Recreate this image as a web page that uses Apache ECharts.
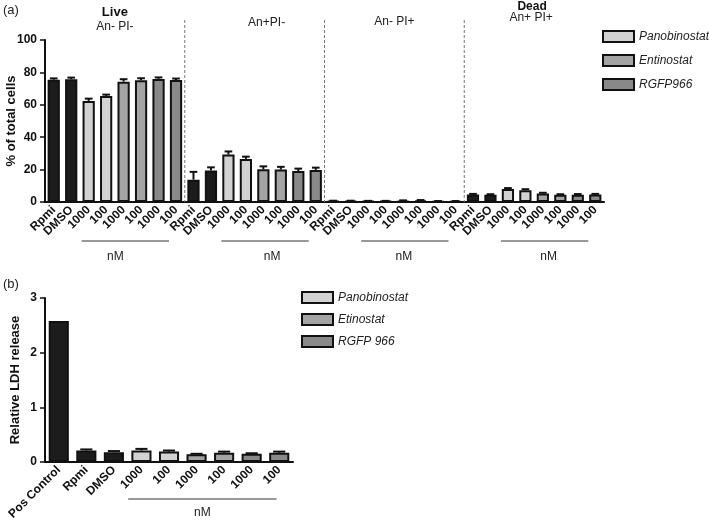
<!DOCTYPE html>
<html>
<head>
<meta charset="utf-8">
<script src="https://cdn.jsdelivr.net/npm/echarts@6/dist/echarts.min.js"></script>
<style>
  html, body { margin: 0; padding: 0; background: #fff; }
  #main { width: 709px; height: 528px; }
</style>
</head>
<body>
<div id="main"></div>
<script>
// (a) flow cytometry panels
var panelNames = ['Live', 'An+PI-', 'An- PI+', 'Dead'];
var panelLabels = ['Rpmi', 'DMSO', '1000', '100', '1000', '100', '1000', '100'];
var panelTreatment = ['Control', 'Control', 'Panobinostat', 'Panobinostat', 'Entinostat', 'Entinostat', 'RGFP966', 'RGFP966'];
var liveMean = [75.5, 75.8, 62.4, 65.4, 74.3, 75.2, 76.0, 75.3];
var liveErr = [0.8, 1.0, 1.4, 0.9, 1.5, 1.2, 0.9, 0.9];
var anPosPiNegMean = [13.8, 19.5, 29.3, 26.6, 20.2, 20.0, 19.1, 19.8];
var anPosPiNegErr = [4.8, 1.9, 1.9, 1.4, 1.8, 1.7, 1.5, 1.4];
var anNegPiPosMean = [0.6, 0.6, 0.5, 0.5, 0.7, 0.9, 0.4, 0.4];
var anNegPiPosErr = [0.2, 0.2, 0.2, 0.2, 0.3, 0.3, 0.2, 0.2];
var deadMean = [4.6, 4.4, 8.0, 7.3, 5.3, 4.4, 4.5, 4.6];
var deadErr = [0.4, 0.4, 0.6, 0.6, 0.4, 0.4, 0.4, 0.4];
var topTicks = [0, 20, 40, 60, 80, 100];

// (b) LDH release
var ldhLabels = ['Pos Control', 'Rpmi', 'DMSO', '1000', '100', '1000', '100', '1000', '100'];
var ldhTreatment = ['Control', 'Control', 'Control', 'Panobinostat', 'Panobinostat', 'Etinostat', 'Etinostat', 'RGFP 966', 'RGFP 966'];
var ldhMean = [2.58, 0.21, 0.18, 0.21, 0.19, 0.14, 0.17, 0.15, 0.17];
var ldhErr = [0, 0.02, 0.02, 0.03, 0.02, 0.01, 0.02, 0.01, 0.02];

var colors = {
  'Control': '#1c1c1c',
  'Panobinostat': '#d2d2d2',
  'Entinostat': '#a4a4a4',
  'Etinostat': '#a4a4a4',
  'RGFP966': '#898989',
  'RGFP 966': '#898989'
};

var FONT = "'Liberation Sans', Arial, sans-serif";

// flatten the 4 panels
var topLabels = [], topTreat = [], topMean = [], topErr = [];
var means = [liveMean, anPosPiNegMean, anNegPiPosMean, deadMean];
var errs = [liveErr, anPosPiNegErr, anNegPiPosErr, deadErr];
for (var p = 0; p < panelNames.length; p++) {
  for (var i = 0; i < panelLabels.length; i++) {
    topLabels.push(panelLabels[i]);
    topTreat.push(panelTreatment[i]);
    topMean.push(means[p][i]);
    topErr.push(errs[p][i]);
  }
}

function barsFor(name, treat, vals, axis) {
  return {
    name: name,
    type: 'bar',
    xAxisIndex: axis,
    yAxisIndex: axis,
    stack: 's' + axis,
    barCategoryGap: axis === 0 ? '30%' : '27%',
    itemStyle: { color: colors[name], borderColor: '#111', borderWidth: 2 },
    data: vals.map(function (v, i) { return treat[i] === name ? v : '-'; }),
    z: 2
  };
}

function errorSeries(vals, err, axis) {
  return {
    type: 'custom',
    xAxisIndex: axis,
    yAxisIndex: axis,
    z: 5,
    encode: { x: 0, y: 1 },
    data: vals.map(function (v, i) { return [i, v, err[i]]; }),
    renderItem: function (params, api) {
      var idx = api.value(0), m = api.value(1), e = api.value(2);
      if (!(e > 0)) return;
      var base = api.coord([idx, m]);
      var top = api.coord([idx, m + e]);
      var w = api.size([1, 0])[0] * 0.22;
      var st = { stroke: '#111', lineWidth: 2 };
      return {
        type: 'group',
        children: [
          { type: 'line', shape: { x1: base[0], y1: base[1], x2: top[0], y2: top[1] }, style: st },
          { type: 'line', shape: { x1: top[0] - w, y1: top[1], x2: top[0] + w, y2: top[1] }, style: st }
        ]
      };
    }
  };
}

function catAxis(labels, grid) {
  return {
    type: 'category',
    gridIndex: grid,
    data: labels.map(function (l, i) { return String(i); }),
    axisLine: { lineStyle: { color: '#111', width: 2 } },
    axisTick: { alignWithLabel: true, length: 4, lineStyle: { color: '#111', width: 1.5 } },
    axisLabel: {
      interval: 0, rotate: 45, margin: 6,
      fontFamily: FONT, fontWeight: 'bold', fontSize: 12, color: '#111',
      formatter: function (v) { return labels[+v]; }
    }
  };
}

function valAxis(grid, max, interval, name, gap) {
  return {
    type: 'value',
    gridIndex: grid,
    min: 0, max: max, interval: interval,
    name: name,
    nameLocation: 'middle',
    nameGap: gap,
    nameMoveOverlap: false,
    nameTextStyle: { fontFamily: FONT, fontWeight: 'bold', fontSize: 13, color: '#111' },
    axisLine: { show: true, lineStyle: { color: '#111', width: 2 } },
    axisTick: { show: true, length: 5, lineStyle: { color: '#111', width: 1.5 } },
    splitLine: { show: false },
    axisLabel: { margin: 8, fontFamily: FONT, fontWeight: 'bold', fontSize: 12, color: '#111' }
  };
}

var series = [];
['Control', 'Panobinostat', 'Entinostat', 'RGFP966'].forEach(function (n) {
  series.push(barsFor(n, topTreat, topMean, 0));
});
['Control', 'Panobinostat', 'Etinostat', 'RGFP 966'].forEach(function (n) {
  series.push(barsFor(n, ldhTreatment, ldhMean, 1));
});
series.push(errorSeries(topMean, topErr, 0));
series.push(errorSeries(ldhMean, ldhErr, 1));

var legendBase = {
  orient: 'vertical',
  icon: 'rect',
  itemWidth: 31,
  itemHeight: 11,
  padding: 0,
  selectedMode: false,
  itemStyle: { borderColor: '#111', borderWidth: 2 },
  textStyle: { fontFamily: FONT, fontStyle: 'italic', fontSize: 12, color: '#222' }
};

var chart = echarts.init(document.getElementById('main'));
chart.setOption({
  backgroundColor: '#fff',
  animation: false,
  textStyle: { fontFamily: FONT },
  grid: [
    { left: 45, top: 40, width: 559, height: 162, containLabel: false, outerBoundsMode: 'none' },
    { left: 45, top: 298, width: 248, height: 164, containLabel: false, outerBoundsMode: 'none' }
  ],
  xAxis: [catAxis(topLabels, 0), catAxis(ldhLabels, 1)],
  yAxis: [
    valAxis(0, topTicks[topTicks.length - 1], topTicks[1] - topTicks[0], '% of total cells', 27),
    valAxis(1, 3, 1, 'Relative LDH release', 23)
  ],
  legend: [
    Object.assign({}, legendBase, { left: 602, top: 30, itemGap: 11, data: ['Panobinostat', 'Entinostat', 'RGFP966'] }),
    Object.assign({}, legendBase, { left: 301, top: 291, itemGap: 9, data: ['Panobinostat', 'Etinostat', 'RGFP 966'] })
  ],
  series: series
});

// annotations placed through the axes
function px(axis, idx) { return chart.convertToPixel({ xAxisIndex: axis }, idx); }
var pitchTop = px(0, 1) - px(0, 0);
var pitchLdh = px(1, 1) - px(1, 0);
var y0Top = chart.convertToPixel({ yAxisIndex: 0 }, 0);
var n = panelLabels.length;
var g = [];
var txt = function (x, y, s, opt) {
  return {
    type: 'text', x: x, y: y, z: 10,
    style: Object.assign({ text: s, fontFamily: FONT, fontSize: 12, fill: '#222', align: 'center', verticalAlign: 'middle' }, opt || {})
  };
};
g.push(txt(3, 10, '(a)', { align: 'left', fontSize: 13 }));
g.push(txt(3, 284, '(b)', { align: 'left', fontSize: 13 }));

for (var k = 1; k < panelNames.length; k++) {
  var bx = (px(0, k * n - 1) + px(0, k * n)) / 2;
  g.push({ type: 'line', z: 1, shape: { x1: bx, y1: 20, x2: bx, y2: y0Top },
    style: { stroke: '#777', lineWidth: 1, lineDash: [3, 2] } });
}
var nmShift = [-10, 7, -1, 4];
for (var k = 0; k < panelNames.length; k++) {
  var x1 = px(0, k * n + 2) - 0.40 * pitchTop;
  var x2 = px(0, k * n + 7) - 0.40 * pitchTop;
  g.push({ type: 'line', shape: { x1: x1, y1: 241, x2: x2, y2: 241 }, style: { stroke: '#333', lineWidth: 1 } });
  g.push(txt((x1 + x2) / 2 + nmShift[k], 257, 'nM', { fontSize: 12 }));
}
var gc = function (k) { return (px(0, k * n) + px(0, k * n + n - 1)) / 2; };
g.push(txt(gc(0), 12, 'Live', { fontWeight: 'bold', fontSize: 13, fill: '#111' }));
g.push(txt(gc(0), 27, 'An- PI-'));
g.push(txt(gc(1) + 12, 23, 'An+PI-'));
g.push(txt(gc(2), 22, 'An- PI+'));
g.push(txt(gc(3) - 2, 6.5, 'Dead', { fontWeight: 'bold', fontSize: 12, fill: '#111' }));
g.push(txt(gc(3) - 3, 17.5, 'An+ PI+'));

var lx1 = px(1, 3) - 0.48 * pitchLdh;
var lx2 = px(1, 8) - 0.10 * pitchLdh;
g.push({ type: 'line', shape: { x1: lx1, y1: 499, x2: lx2, y2: 499 }, style: { stroke: '#333', lineWidth: 1 } });
g.push(txt((lx1 + lx2) / 2, 513, 'nM'));

chart.setOption({ graphic: g });
</script>
</body>
</html>
